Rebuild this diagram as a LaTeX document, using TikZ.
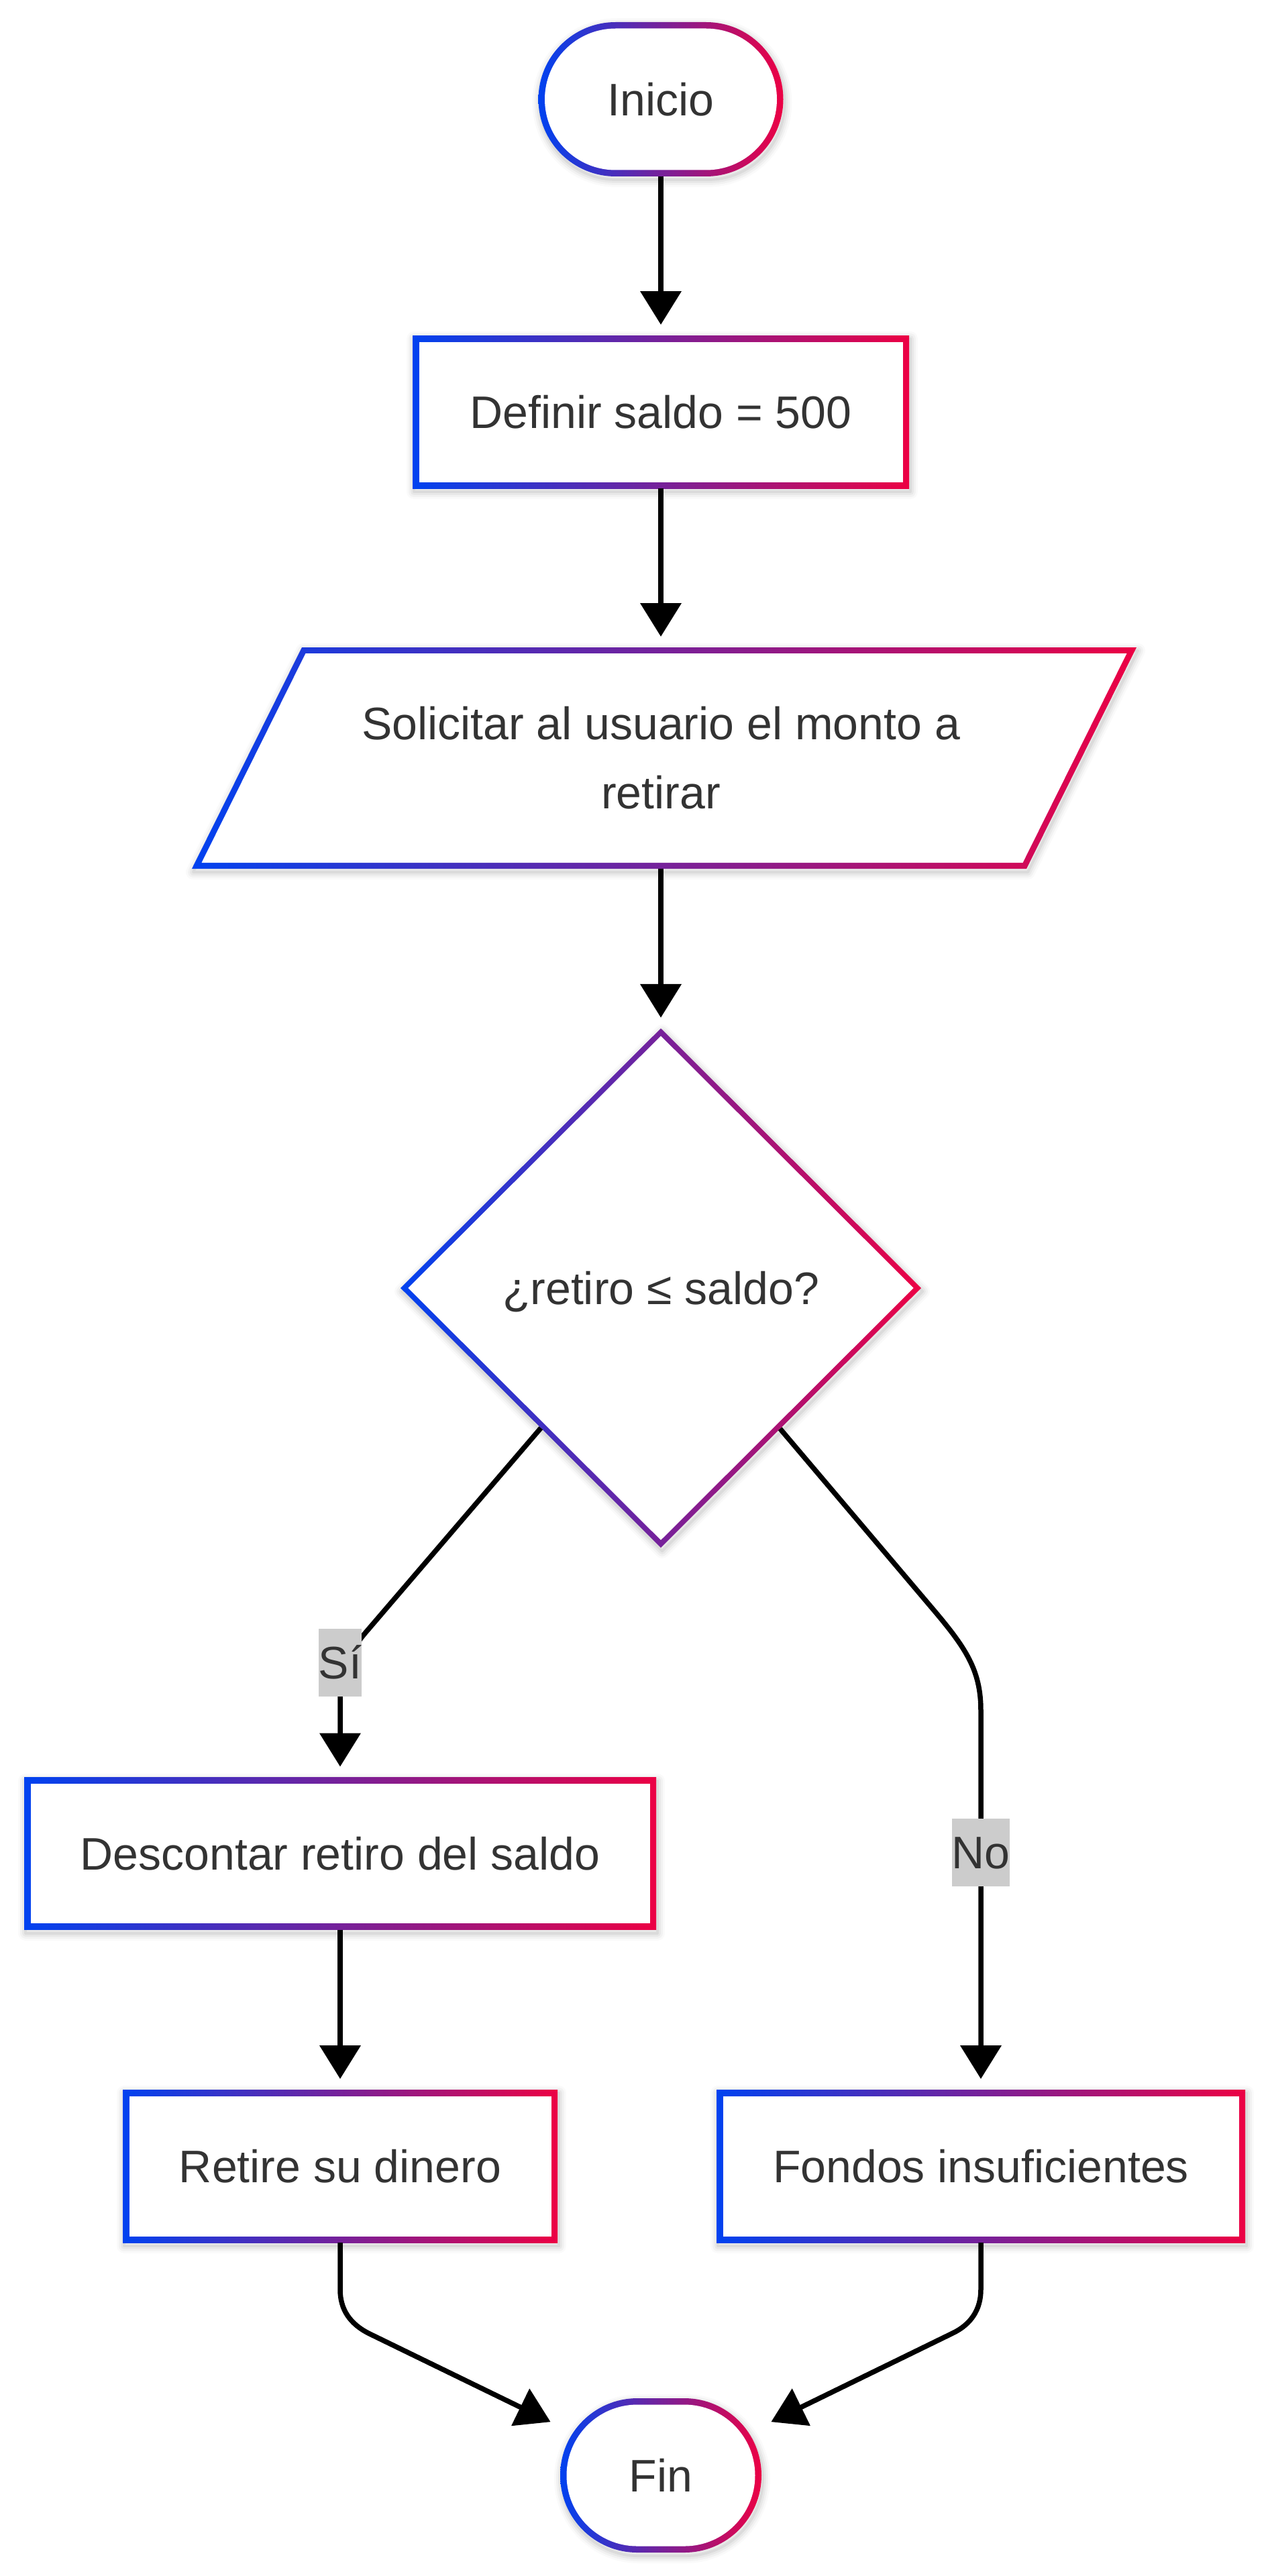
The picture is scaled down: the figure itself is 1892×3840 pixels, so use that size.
\documentclass[tikz,border=0pt]{standalone}
\usepackage{fontspec}
\setmainfont{Liberation Sans}
\usetikzlibrary{arrows.meta,shapes.geometric,calc}
\definecolor{gblue}{RGB}{0,66,240}
\definecolor{gred}{RGB}{236,0,68}
\definecolor{txtc}{RGB}{51,51,51}
\definecolor{lblbg}{RGB}{204,204,204}
\pgfdeclarelayer{back}
\pgfdeclarelayer{frames}
\pgfsetlayers{back,frames,main}
\tikzset{
  txt/.style={font=\fontsize{68}{103}\selectfont, text=txtc, inner sep=0pt, outer sep=0pt},
  one/.style={text height=49pt, text depth=0pt},
  conn/.style={draw=black, line width=7.5pt, -{Triangle[width=60pt,length=50pt]}, shorten >=16pt},
  lbl/.style={txt, one, fill=lblbg, inner xsep=0pt, inner ysep=26pt},
  grad/.style={left color=gblue, right color=gred},
}
\newcommand{\softshadow}[1]{%
  \begin{scope}[transform canvas={shift={(2pt,-5pt)}}]
  \foreach \w/\o in {4/0.05,10/0.04,16/0.03,22/0.02}{%
    \draw[black, opacity=\o, line width=\w pt, line join=round] #1;}
  \end{scope}}
\begin{document}
\begin{tikzpicture}[x=1pt,y=1pt]
\begin{pgfonlayer}{back}
\fill[white] (0,0) rectangle (1892,-3840);
\end{pgfonlayer}
\useasboundingbox (0,0) rectangle (1892,-3840);

% nodes
\node[txt, one, minimum width=365pt, minimum height=230pt] (inicio) at (985,-148) {Inicio};
\node[txt, one, minimum width=740pt, minimum height=228pt] (defn) at (985,-614) {Definir saldo = 500};
\node[txt, align=center, minimum width=1000pt, minimum height=330pt] (sol) at (985,-1130) {Solicitar al usuario el monto a\\retirar};
\node[txt, one, shape=diamond, minimum width=776pt, minimum height=774pt] (dec) at (985,-1920) {¿retiro ≤ saldo?};
\node[txt, one, minimum width=942pt, minimum height=227pt] (desc) at (507,-2763) {Descontar retiro del saldo};
\node[txt, one, minimum width=648pt, minimum height=228pt] (retire) at (507,-3229) {Retire su dinero};
\node[txt, one, minimum width=788pt, minimum height=228pt] (fondos) at (1462,-3229) {Fondos insuficientes};
\node[txt, one, minimum width=300pt, minimum height=230pt] (fin) at (985,-3690) {Fin};

% frames with gradient strokes
\begin{pgfonlayer}{frames}
\foreach \n in {defn,desc,retire,fondos}{
  \softshadow{(\n.south west) rectangle (\n.north east)}
  \shade[grad] (\n.south west) rectangle (\n.north east);
  \fill[white] ([shift={(9.5,9.5)}]\n.south west) rectangle ([shift={(-9.5,-9.5)}]\n.north east);
}
\foreach \n in {inicio,fin}{
  \softshadow{[rounded corners=115pt] (\n.south west) rectangle (\n.north east)}
  \shade[grad,rounded corners=115pt] (\n.south west) rectangle (\n.north east);
  \fill[white,rounded corners=105.5pt] ([shift={(9.5,9.5)}]\n.south west) rectangle ([shift={(-9.5,-9.5)}]\n.north east);
}
\softshadow{(dec.north) -- (dec.east) -- (dec.south) -- (dec.west) -- cycle}
\shade[grad] (dec.north) -- (dec.east) -- (dec.south) -- (dec.west) -- cycle;
\fill[white] ([yshift=-11.3pt]dec.north) -- ([xshift=-11.3pt]dec.east) -- ([yshift=11.3pt]dec.south) -- ([xshift=11.3pt]dec.west) -- cycle;
\softshadow{(450,-965) -- (1694,-965) -- (1530,-1295) -- (286,-1295) -- cycle}
\shade[grad] (450,-965) -- (1694,-965) -- (1530,-1295) -- (286,-1295) -- cycle;
\fill[white] (455.5,-974) -- (1679.5,-974) -- (1524.5,-1286) -- (300.5,-1286) -- cycle;
\end{pgfonlayer}

% connectors
\draw[conn] (inicio) -- (defn);
\draw[conn] (defn) -- (sol);
\draw[conn] (sol) -- (dec);
\draw[conn] (dec) -- (548,-2430) .. controls (520,-2462) and (507,-2490) .. (507,-2540) -- (desc);
\draw[conn] (dec) -- (1390,-2398) .. controls (1440,-2457) and (1462,-2490) .. (1462,-2550) -- (fondos);
\draw[conn] (desc) -- (retire);
\draw[conn] (retire) -- (507,-3413) .. controls (507,-3443) and (522,-3464) .. (549,-3478) -- (fin);
\draw[conn] (fondos) -- (1462,-3413) .. controls (1462,-3443) and (1447,-3465) .. (1420,-3478) -- (fin);

% edge labels
\node[lbl] (lsi) at (507,-2478) {Sí};
\node[lbl] (lno) at (1462,-2761) {No};
\end{tikzpicture}
\end{document}
